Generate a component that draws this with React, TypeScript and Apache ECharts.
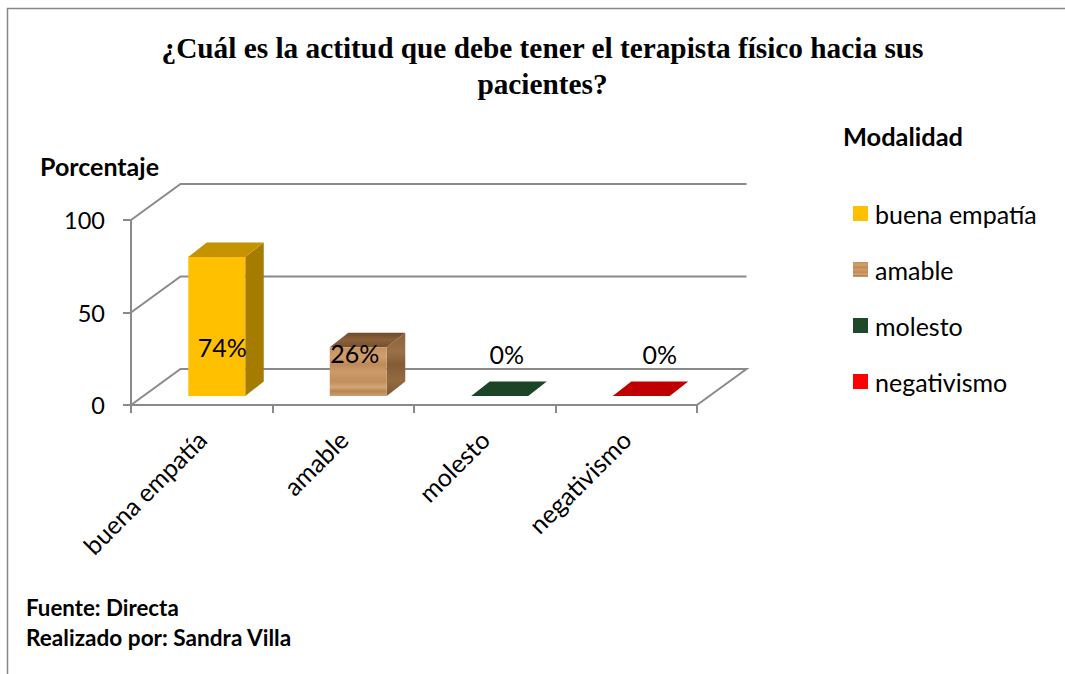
import React, { useEffect, useRef } from "react";
import * as echarts from "echarts";

const titleText = "¿Cuál es la actitud que debe tener el terapista físico hacia sus\npacientes?";
const categories = ["buena empatía", "amable", "molesto", "negativismo"];
const values = [74, 26, 0, 0];
const yTicks = [0, 50, 100];

const SANS = "Lato, 'Noto Sans', sans-serif";
const GRID = { left: 131, top: 220, width: 566, height: 185 };
const DEPTH = { dx: 49.5, dy: 36 };
const BAR = { width: 57, shiftX: 15, shiftY: 9, dx: 18.5, dy: 14.5, heightScale: 1.015 };
const LABEL_SHIFT = [[5.5, -49], [-3.5, -43], [7, -42], [18.5, -42]];
const GRAY = "#8a8a8a";

const band = (stops: [number, string][]) =>
  new echarts.graphic.LinearGradient(0, 0, 0, 1, stops.map(([offset, color]) => ({ offset, color })));

const woodFront = () => band([[0, "#c4925f"], [0.2, "#d09d6c"], [0.35, "#bd8a58"], [0.5, "#cc9a68"], [0.7, "#c18e5c"], [0.82, "#d4a577"], [0.9, "#b88552"], [1, "#cf9f70"]]);
const woodSide = () => band([[0, "#8a623c"], [0.3, "#9a7048"], [0.5, "#835c37"], [0.75, "#94693f"], [1, "#7e5833"]]);
const woodTop = () => band([[0, "#6f4c2b"], [0.5, "#8a6038"], [1, "#75512f"]]);

const faces = [
  { front: () => "#ffc000", side: () => "#a67c00", top: () => "#c49300", legend: () => "#ffc000" },
  { front: woodFront, side: woodSide, top: woodTop, legend: woodFront },
  { front: () => "#1e4a2a", side: () => "#143a20", top: () => "#1c4527", legend: () => "#1e4a2a" },
  { front: () => "#ff0000", side: () => "#a80000", top: () => "#c00000", legend: () => "#ff0000" },
];

export default function App() {
  const ref = useRef<HTMLDivElement>(null);
  useEffect(() => {
    document.body.style.margin = "0";
    const chart = echarts.init(ref.current!, null, { renderer: "svg" });

    const barSeries = categories.map((name, i) => ({
      type: "custom",
      name,
      clip: false,
      z: 5,
      data: [[i, values[i]]],
      renderItem: (_p: any, api: any) => {
        const base = api.coord([api.value(0), 0]);
        const head = api.coord([api.value(0), api.value(1)]);
        const x0 = base[0] + BAR.shiftX - BAR.width / 2;
        const x1 = x0 + BAR.width;
        const yb = base[1] - BAR.shiftY;
        const yt = yb - (base[1] - head[1]) * BAR.heightScale;
        const f = faces[i];
        const poly = (points: number[][], fill: any) => ({
          type: "polygon",
          shape: { points },
          style: { fill, stroke: null },
        });
        return {
          type: "group",
          children: [
            poly([[x1, yb], [x1 + BAR.dx, yb - BAR.dy], [x1 + BAR.dx, yt - BAR.dy], [x1, yt]], f.side()),
            poly([[x0, yt], [x1, yt], [x1 + BAR.dx, yt - BAR.dy], [x0 + BAR.dx, yt - BAR.dy]], f.top()),
            poly([[x0, yb], [x1, yb], [x1, yt], [x0, yt]], f.front()),
            {
              type: "text",
              style: {
                text: `${api.value(1)}%`,
                x: (x0 + x1) / 2 + LABEL_SHIFT[i][0],
                y: yb + LABEL_SHIFT[i][1],
                textAlign: "center",
                textVerticalAlign: "middle",
                fill: "#000",
                font: `25px ${SANS}`,
              },
            },
          ],
        };
      },
    }));

    chart.setOption({
      animation: false,
      backgroundColor: "#fff",
      title: {
        text: titleText,
        left: 537.5,
        top: 25,
        textAlign: "center",
        textStyle: {
          fontFamily: "'Liberation Serif', serif",
          fontWeight: "bold",
          fontSize: 29.3,
          lineHeight: 36,
          color: "#000",
        },
      },
      legend: {
        orient: "vertical",
        left: 848,
        top: 196,
        itemWidth: 15,
        itemHeight: 15,
        itemGap: 31,
        selectedMode: false,
        data: categories.map((name, i) => ({ name, icon: "rect", itemStyle: { color: faces[i].legend() } })),
        textStyle: { fontFamily: SANS, fontSize: 25, lineHeight: 24, color: "#000", padding: [0, 0, 0, 2] },
      },
      grid: GRID,
      xAxis: {
        type: "category",
        data: categories,
        axisLine: { lineStyle: { color: GRAY, width: 2 } },
        axisTick: { show: true, length: 8, lineStyle: { color: GRAY, width: 2 } },
        axisLabel: { rotate: 45, interval: 0, margin: 30, fontFamily: SANS, fontSize: 25, color: "#000" },
      },
      yAxis: {
        type: "value",
        min: 0,
        max: 100,
        interval: 50,
        splitLine: { show: false },
        axisLine: { show: true, lineStyle: { color: GRAY, width: 2 } },
        axisTick: { show: true, length: 8, lineStyle: { color: GRAY, width: 2 } },
        axisLabel: { margin: 26, fontFamily: SANS, fontSize: 23.5, color: "#000" },
      },
      graphic: [
        {
          type: "polyline",
          shape: { points: [[7.5, 674], [7.5, 8.5], [1065, 8.5]] },
          style: { stroke: "#868686", lineWidth: 1.5, fill: null },
        },
        ...[
          { text: "Porcentaje", x: 40, y: 166, size: 25 },
          { text: "Modalidad", x: 843, y: 136, size: 25.4 },
          { text: "Fuente: Directa", x: 26, y: 607, size: 22.3 },
          { text: "Realizado por: Sandra Villa", x: 26, y: 637, size: 22.6 },
        ].map((t) => ({
          type: "text",
          style: {
            text: t.text,
            x: t.x,
            y: t.y,
            textVerticalAlign: "middle",
            fill: "#000",
            font: `bold ${t.size}px ${SANS}`,
          },
        })),
      ],
      series: [
        {
          type: "custom",
          name: "wall",
          clip: false,
          z: 1,
          data: yTicks.map((t) => [0, t]),
          renderItem: (p: any, api: any) => {
            const y = api.coord([0, api.value(1)])[1];
            const { x, width } = p.coordSys;
            const points = [[x, y], [x + DEPTH.dx, y - DEPTH.dy], [x + width + DEPTH.dx, y - DEPTH.dy]];
            if (api.value(1) === 0) points.push([x + width, y]);
            return { type: "polyline", shape: { points }, style: { stroke: GRAY, lineWidth: 2, fill: null } };
          },
        },
        ...barSeries,
      ],
    });
    return () => chart.dispose();
  }, []);
  return <div ref={ref} style={{ width: 1065, height: 674, position: "fixed", left: 0, top: 0 }} />;
}
